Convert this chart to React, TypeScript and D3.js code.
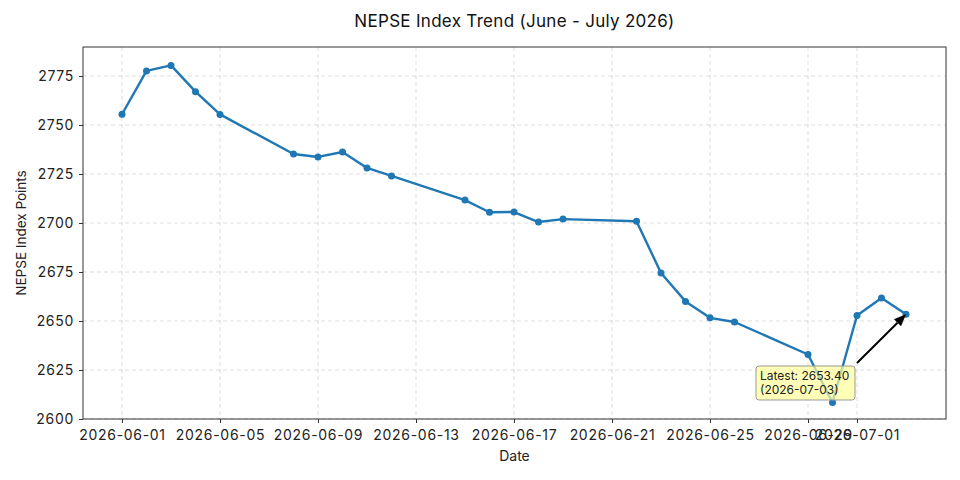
import { useEffect, useRef } from "react";
import * as d3 from "d3";

const dates = [
  "2026-06-01", "2026-06-02", "2026-06-03", "2026-06-04", "2026-06-05",
  "2026-06-08", "2026-06-09", "2026-06-10", "2026-06-11", "2026-06-12",
  "2026-06-15", "2026-06-16", "2026-06-17", "2026-06-18", "2026-06-19",
  "2026-06-22", "2026-06-23", "2026-06-24", "2026-06-25", "2026-06-26",
  "2026-06-29", "2026-06-30", "2026-07-01", "2026-07-02", "2026-07-03",
];
const values = [
  2755.5, 2777.6, 2780.4, 2767.0, 2755.4,
  2735.2, 2733.7, 2736.2, 2728.1, 2724.0,
  2711.7, 2705.5, 2705.6, 2700.5, 2702.0,
  2700.9, 2674.5, 2660.0, 2651.6, 2649.5,
  2632.9, 2608.4, 2652.8, 2661.7, 2653.4,
];
const xTicks = [
  "2026-06-01", "2026-06-05", "2026-06-09", "2026-06-13", "2026-06-17",
  "2026-06-21", "2026-06-25", "2026-06-29", "2026-07-01",
];
const yTicks = [2600, 2625, 2650, 2675, 2700, 2725, 2750, 2775];

const W = 960;
const H = 480;
const margin = { top: 47, right: 14, bottom: 61, left: 83 };
const FONT = "Inter, 'DejaVu Sans', sans-serif";

export default function App() {
  const svgRef = useRef<SVGSVGElement>(null);

  useEffect(() => {
    if (!svgRef.current) return;
    const svg = d3.select(svgRef.current);
    svg.selectAll("*").remove();

    const parse = d3.utcParse("%Y-%m-%d");
    const data = dates.map((d, i) => ({ date: parse(d)!, value: values[i] }));

    const plotB = H - margin.bottom;
    const plotR = W - margin.right;

    // 06-01 sits at x=122, 24.5px per day
    const day0 = parse("2026-06-01")!.getTime();
    const x = d3
      .scaleUtc()
      .domain([
        new Date(day0 - ((122 - margin.left) / 24.5) * 864e5),
        new Date(day0 + ((plotR - 122) / 24.5) * 864e5),
      ])
      .range([margin.left, plotR]);

    const y = d3
      .scaleLinear()
      .domain([2600, 2600 + (plotB - margin.top) / 1.96])
      .range([plotB, margin.top]);

    // grid
    const grid = svg.append("g").attr("stroke", "#b0b0b0").attr("stroke-opacity", 0.55)
      .attr("stroke-dasharray", "4,3").attr("stroke-width", 0.8);
    xTicks.forEach((t) => {
      const px = x(parse(t)!);
      grid.append("line").attr("x1", px).attr("x2", px).attr("y1", margin.top).attr("y2", plotB);
    });
    yTicks.forEach((t) => {
      grid.append("line").attr("x1", margin.left).attr("x2", plotR).attr("y1", y(t)).attr("y2", y(t));
    });

    // axes
    const xAxis = svg.append("g").attr("transform", `translate(0,${plotB})`)
      .call(d3.axisBottom(x).tickValues(xTicks.map((t) => parse(t)!))
        .tickFormat((d) => d3.utcFormat("%Y-%m-%d")(d as Date)).tickSizeOuter(0).tickSize(4).tickPadding(7));
    const yAxis = svg.append("g").attr("transform", `translate(${margin.left},0)`)
      .call(d3.axisLeft(y).tickValues(yTicks).tickFormat(d3.format("d")).tickSizeOuter(0).tickSize(4).tickPadding(5));
    [xAxis, yAxis].forEach((a) => {
      a.select(".domain").remove();
      a.selectAll("text").attr("font-family", FONT).attr("font-size", 14)
        .attr("letter-spacing", 0.7).attr("fill", "#222");
      a.selectAll("line").attr("stroke", "#333");
    });

    // frame
    svg.append("rect").attr("x", margin.left).attr("y", margin.top)
      .attr("width", plotR - margin.left).attr("height", plotB - margin.top)
      .attr("fill", "none").attr("stroke", "#333").attr("stroke-width", 1);

    // line + markers
    const line = d3.line<{ date: Date; value: number }>().x((d) => x(d.date)).y((d) => y(d.value));
    svg.append("path").datum(data).attr("d", line).attr("fill", "none")
      .attr("stroke", "#1f77b4").attr("stroke-width", 2.4).attr("stroke-linejoin", "round");
    svg.append("g").selectAll("circle").data(data).join("circle")
      .attr("cx", (d) => x(d.date)).attr("cy", (d) => y(d.value)).attr("r", 3.5).attr("fill", "#1f77b4");

    // annotation arrow
    const last = data[data.length - 1];
    const lx = x(last.date);
    const ly = y(last.value);
    const ax = 857;
    const ay = 363;
    const ang = Math.atan2(ly - ay, lx - ax);
    const hl = 12;
    const hw = 5;
    const bx = lx - Math.cos(ang) * hl;
    const by = ly - Math.sin(ang) * hl;
    svg.append("line").attr("x1", ax).attr("y1", ay).attr("x2", bx).attr("y2", by)
      .attr("stroke", "black").attr("stroke-width", 2);
    svg.append("path")
      .attr("d", `M${lx},${ly} L${bx - Math.sin(ang) * hw},${by + Math.cos(ang) * hw} L${bx + Math.sin(ang) * hw},${by - Math.cos(ang) * hw} Z`)
      .attr("fill", "black");

    const ann = svg.append("g");
    ann.append("rect").attr("x", 756).attr("y", 366).attr("width", 99).attr("height", 34).attr("rx", 3)
      .attr("fill", "#ffff99").attr("fill-opacity", 0.7).attr("stroke", "#999").attr("stroke-width", 1);
    ann.append("text").attr("x", 760).attr("y", 380).attr("font-family", FONT).attr("font-size", 12)
      .attr("fill", "#222").text(`Latest: ${last.value.toFixed(2)}`);
    ann.append("text").attr("x", 760).attr("y", 394).attr("font-family", FONT).attr("font-size", 12)
      .attr("fill", "#222").text(`(${dates[dates.length - 1]})`);

    // titles
    svg.append("text").attr("x", (margin.left + plotR) / 2).attr("y", 27).attr("text-anchor", "middle")
      .attr("font-family", FONT).attr("font-size", 17).attr("letter-spacing", 0.3).attr("fill", "#111")
      .text("NEPSE Index Trend (June - July 2026)");
    svg.append("text").attr("x", (margin.left + plotR) / 2).attr("y", 461).attr("text-anchor", "middle")
      .attr("font-family", FONT).attr("font-size", 14).attr("fill", "#222").text("Date");
    svg.append("text").attr("transform", `translate(26,${(margin.top + plotB) / 2}) rotate(-90)`)
      .attr("text-anchor", "middle").attr("font-family", FONT).attr("font-size", 13.5).attr("fill", "#222")
      .text("NEPSE Index Points");
  }, []);

  return (
    <div style={{ position: "absolute", left: 0, top: 0 }}>
      <svg ref={svgRef} width={W} height={H} style={{ display: "block", background: "white" }} />
    </div>
  );
}
